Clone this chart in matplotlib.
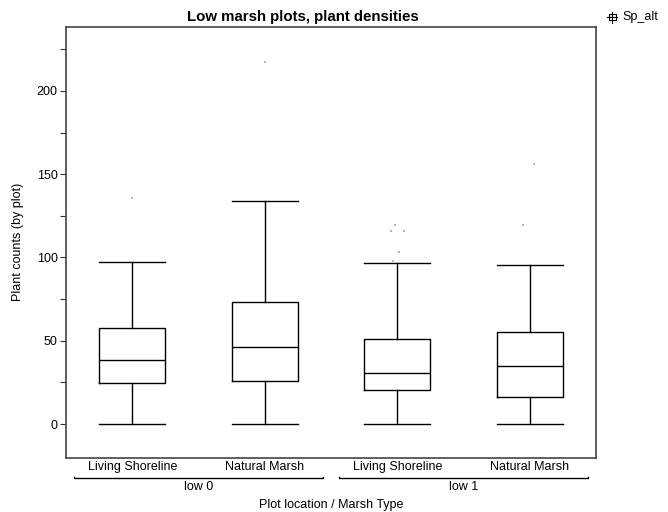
import matplotlib
matplotlib.use("Agg")
import matplotlib.pyplot as plt
from matplotlib.ticker import MultipleLocator

plt.rcParams['font.family'] = ['Liberation Sans', 'DejaVu Sans']

# data
categories = ['Living Shoreline', 'Natural Marsh', 'Living Shoreline', 'Natural Marsh']
groups = ['low 0', 'low 1']
whislo = [0, 0, 0, 0]
q1 = [24.6, 25.8, 20.4, 16.2]
med = [38.4, 46.2, 30.6, 34.8]
q3 = [57.7, 73.3, 51.0, 55.3]
whishi = [97.3, 134.0, 96.7, 95.5]
outliers = [[135.7], [217.4], [119.5, 115.9, 115.9, 103.3, 97.9], [156.2, 119.5]]
jitter = [[0.0], [0.0], [-0.02, -0.05, 0.05, 0.01, -0.03], [0.03, -0.05]]

stats = []
for i in range(4):
    stats.append(dict(whislo=whislo[i], q1=q1[i], med=med[i], q3=q3[i],
                      whishi=whishi[i], fliers=[]))

fig = plt.figure(figsize=(6.68, 5.12), dpi=100)
ax = fig.add_axes([66/668, 1 - 458/512, 530/668, 431/512])

pos = [1, 2, 3, 4]
lw = 1.0
ax.bxp(stats, positions=pos, widths=0.5, showfliers=False,
       boxprops=dict(color='black', linewidth=lw),
       medianprops=dict(color='black', linewidth=lw),
       whiskerprops=dict(color='black', linewidth=lw),
       capprops=dict(color='black', linewidth=lw),
       capwidths=0.5)

# grey outlier dots
for p, vals, jit in zip(pos, outliers, jitter):
    ax.plot([p + j for j in jit], vals, 's', color='#b8b8b8', markersize=2,
            markeredgewidth=0, linestyle='none')

ax.set_xlim(0.5, 4.5)
ax.set_ylim(-20.4, 238.4)
ax.set_yticks([0, 50, 100, 150, 200], labels=['0', '50', '100', '150', '200'])
ax.yaxis.set_minor_locator(MultipleLocator(25))
ax.tick_params(axis='y', which='both', length=4, width=0.8, labelsize=9,
               color='#333333', pad=2)
ax.set_xticks([])
for s in ax.spines.values():
    s.set_color('#444444')
    s.set_linewidth(1.2)

# category labels and group brackets
xt = ax.get_xaxis_transform()
for p, c in zip(pos, categories):
    ax.text(p, -0.021, c, transform=xt, ha='center', va='center', fontsize=9)
for g, (a, b) in zip(groups, [(0.56, 2.44), (2.56, 4.44)]):
    ax.plot([a, a, b, b], [-0.044, -0.047, -0.047, -0.044],
            transform=xt, color='black', lw=1, clip_on=False)
    ax.text((a + b) / 2, -0.068, g, transform=xt, ha='center', va='center',
            fontsize=9)

fig.text(331/668, 1 - 505/512, 'Plot location / Marsh Type', ha='center',
         va='center', fontsize=9)
fig.text(18/668, 1 - 242/512, 'Plant counts (by plot)', rotation=90,
         ha='center', va='center', fontsize=9)
fig.text(303/668, 1 - 17/512, 'Low marsh plots, plant densities', ha='center',
         va='center', fontsize=10.8, fontweight='bold')

# legend glyph
fig.text(622/668, 1 - 17/512, 'Sp_alt', ha='left', va='center', fontsize=9)
fig.lines.append(plt.Line2D([607/668, 617/668], [1 - 17/512] * 2,
                            transform=fig.transFigure, color='black', lw=0.8))
fig.patches.append(plt.Rectangle((608.5/668, 1 - 20/512), 7/668, 6/512,
                                 transform=fig.transFigure, fill=False,
                                 ec='black', lw=0.8))
fig.lines.append(plt.Line2D([612/668, 612/668], [1 - 12/512, 1 - 23/512],
                            transform=fig.transFigure, color='black', lw=0.8))

fig.savefig('out.png', dpi=100)
